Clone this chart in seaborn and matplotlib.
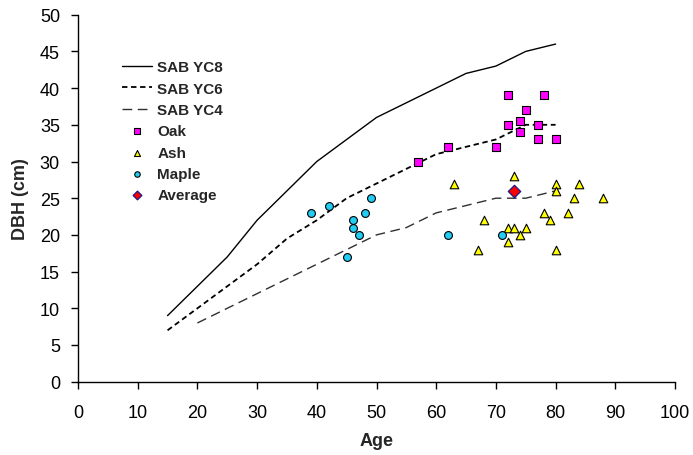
import matplotlib
matplotlib.use("Agg")
import matplotlib.pyplot as plt
import seaborn as sns
import pandas as pd

# ---- data ----
yc8_age = [15, 20, 25, 30, 35, 40, 45, 50, 55, 60, 65, 70, 75, 80]
yc8_dbh = [9, 13, 17, 22, 26, 30, 33, 36, 38, 40, 42, 43, 45, 46]
yc6_age = [15, 20, 25, 30, 35, 40, 45, 50, 55, 60, 65, 70, 75, 80]
yc6_dbh = [7, 10, 13, 16, 19.5, 22, 25, 27, 29, 31, 32, 33, 35, 35]
yc4_age = [20, 25, 30, 35, 40, 45, 50, 55, 60, 65, 70, 75, 80]
yc4_dbh = [8, 10, 12, 14, 16, 18, 20, 21, 23, 24, 25, 25, 26]

oak_age = [57, 62, 70, 72, 72, 74, 74, 75, 77, 77, 78, 80]
oak_dbh = [30, 32, 32, 39, 35, 34, 35.5, 37, 35, 33, 39, 33]
ash_age = [63, 73, 80, 84, 80, 83, 88, 78, 82, 79, 68, 72, 73, 75, 74, 72, 67, 80]
ash_dbh = [27, 28, 27, 27, 26, 25, 25, 23, 23, 22, 22, 21, 21, 21, 20, 19, 18, 18]
maple_age = [39, 42, 49, 48, 46, 46, 47, 45, 62, 71]
maple_dbh = [23, 24, 25, 23, 22, 21, 20, 17, 20, 20]
avg_age = [73]
avg_dbh = [26]

x_ticks = [0, 10, 20, 30, 40, 50, 60, 70, 80, 90, 100]
y_ticks = [0, 5, 10, 15, 20, 25, 30, 35, 40, 45, 50]

# ---- style ----
sns.set_style("ticks")
plt.rcParams['font.family'] = ['Liberation Sans', 'DejaVu Sans']

fig = plt.figure(figsize=(6.93, 4.56), dpi=100)
ax = fig.add_axes([78 / 693, 1 - 382.7 / 456, 597 / 693, 367 / 456])

def df(a, d):
    return pd.DataFrame({"Age": a, "DBH": d})

sns.lineplot(data=df(yc8_age, yc8_dbh), x="Age", y="DBH", ax=ax, color="black",
             linewidth=1.0, label="SAB YC8")
sns.lineplot(data=df(yc6_age, yc6_dbh), x="Age", y="DBH", ax=ax, color="black",
             linewidth=1.3, label="SAB YC6").lines[-1].set_dashes([3, 2])
sns.lineplot(data=df(yc4_age, yc4_dbh), x="Age", y="DBH", ax=ax, color="#303030",
             linewidth=1.0, label="SAB YC4").lines[-1].set_dashes([7, 4])

sns.scatterplot(data=df(oak_age, oak_dbh), x="Age", y="DBH", ax=ax, marker="s",
                color="#FF00FF", edgecolor="black", linewidth=0.8, s=32, label="Oak", zorder=5)
sns.scatterplot(data=df(ash_age, ash_dbh), x="Age", y="DBH", ax=ax, marker="^",
                color="#FFFF00", edgecolor="black", linewidth=0.8, s=38, label="Ash", zorder=5)
sns.scatterplot(data=df(maple_age, maple_dbh), x="Age", y="DBH", ax=ax, marker="o",
                color="#22CCF2", edgecolor="black", linewidth=0.8, s=32, label="Maple", zorder=5)
sns.scatterplot(data=df(avg_age, avg_dbh), x="Age", y="DBH", ax=ax, marker="D",
                color="#FF0000", edgecolor="#1A1A8C", linewidth=0.9, s=40, label="Average", zorder=6)

ax.set_xlim(0, 100)
ax.set_ylim(0, 50)
ax.set_xticks(x_ticks)
ax.set_yticks(y_ticks)
ax.tick_params(axis="both", direction="out", length=5, width=1, color="black",
               labelsize=13, labelcolor="black")
ax.tick_params(axis="x", pad=11)
ax.tick_params(axis="y", pad=8)
for s in ["top", "right"]:
    ax.spines[s].set_visible(False)
for s in ["left", "bottom"]:
    ax.spines[s].set_color("black")
    ax.spines[s].set_linewidth(1)

ax.set_xlabel("Age", fontsize=13, fontweight="bold", labelpad=8)
ax.set_ylabel("DBH (cm)", fontsize=13, fontweight="bold", labelpad=8)

leg = ax.legend(loc="upper left", bbox_to_anchor=(0.073, 0.876), frameon=False,
                prop={"weight": "bold", "size": 11},
                handlelength=2.0, handletextpad=0.35, labelspacing=0.48,
                borderpad=0, borderaxespad=0, markerscale=0.7)

fig.savefig("out.png", dpi=100)
